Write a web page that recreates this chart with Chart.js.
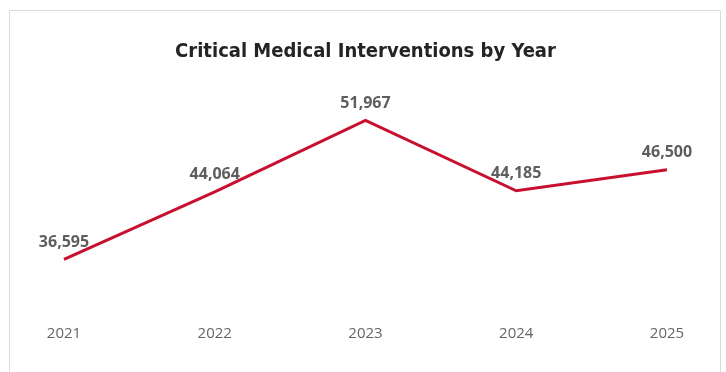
<!DOCTYPE html>
<html>
<head>
<meta charset="utf-8">
<script src="https://cdn.jsdelivr.net/npm/chart.js@4/dist/chart.umd.min.js"></script>
<style>
    html, body { margin: 0; padding: 0; background: #fff; }
    #wrap { position: relative; width: 726px; height: 372px; overflow: hidden; }
    #frame { position: absolute; left: 9px; top: 10px; width: 710px; height: 380px; border: 1px solid #dcdcdc; pointer-events: none; }
    canvas { position: absolute; left: 0; top: 0; }
</style>
</head>
<body>
<div id="wrap">
    <canvas id="interventionsChart" width="726" height="372"></canvas>
    <div id="frame"></div>
</div>
<script>
// chart data
var years = ['2021', '2022', '2023', '2024', '2025'];
var interventions = [36595, 44064, 51967, 44185, 46500];

document.addEventListener('DOMContentLoaded', function () {
    var ctx = document.getElementById('interventionsChart').getContext('2d');

    // draws the value above each point
    var valueLabels = {
        id: 'valueLabels',
        afterDatasetsDraw: function (chart) {
            var c = chart.ctx;
            var meta = chart.getDatasetMeta(0);
            c.save();
            c.font = 'bold 16px "Open Sans", sans-serif';
            c.fillStyle = '#605e5c';
            c.textAlign = 'center';
            c.textBaseline = 'middle';
            meta.data.forEach(function (pt, i) {
                c.fillText(interventions[i].toLocaleString('en-US'), pt.x, pt.y - 17);
            });
            c.restore();
        }
    };

    new Chart(ctx, {
        type: 'line',
        data: {
            labels: years,
            datasets: [{
                label: 'Interventions',
                data: interventions,
                borderColor: '#c8102e',
                borderWidth: 3,
                pointRadius: 0,
                fill: false,
                tension: 0
            }]
        },
        options: {
            responsive: false,
            animation: false,
            layout: { padding: { left: 64, right: 59, top: 0, bottom: 21 } },
            plugins: {
                legend: { display: false },
                tooltip: { enabled: false },
                title: {
                    display: true,
                    text: 'Critical Medical Interventions by Year',
                    color: '#252423',
                    font: { family: '"DejaVu Sans Condensed", "Liberation Sans Narrow", sans-serif', size: 20, weight: 'bold' },
                    padding: { top: 40, bottom: 30 }
                }
            },
            scales: {
                x: {
                    offset: false,
                    grid: { display: false, drawTicks: false },
                    border: { display: false },
                    ticks: {
                        color: '#666666',
                        padding: 8,
                        font: { family: '"Open Sans", sans-serif', size: 15 }
                    }
                },
                y: {
                    display: false,
                    min: 30200,
                    max: 54900
                }
            }
        },
        plugins: [valueLabels]
    });
});
</script>
</body>
</html>
